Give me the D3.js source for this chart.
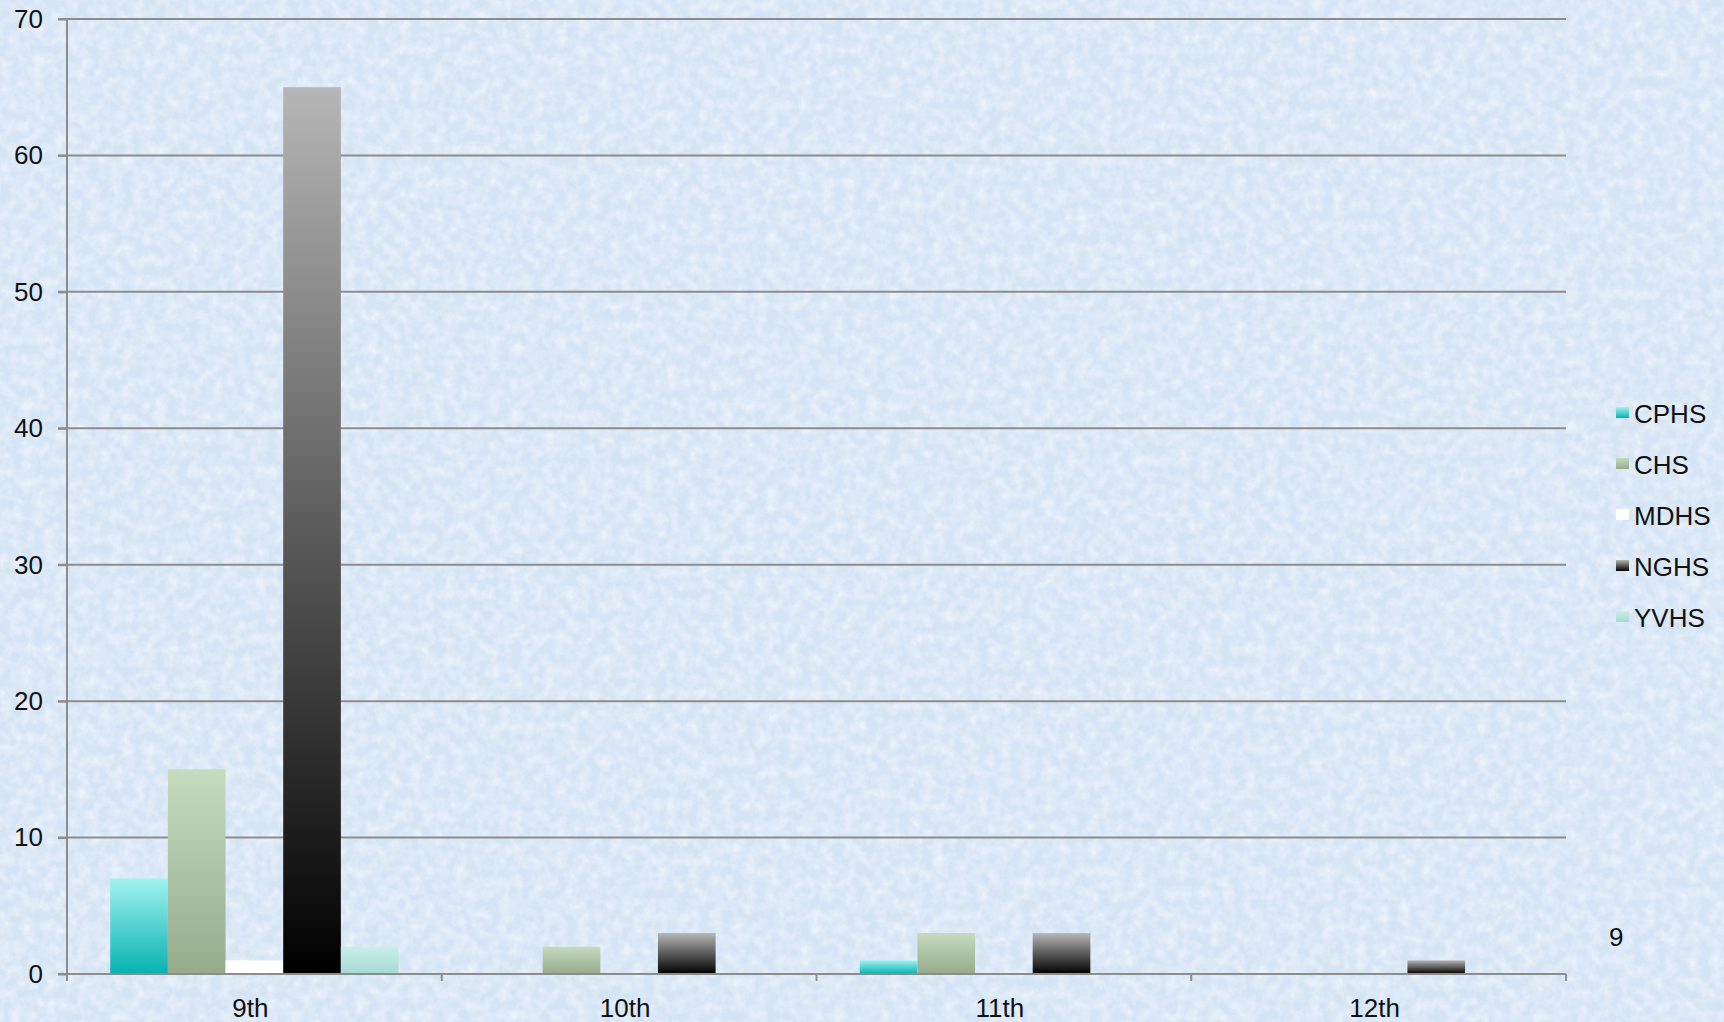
<!DOCTYPE html>
<html>
<head>
<meta charset="utf-8">
<script src="https://cdn.jsdelivr.net/npm/d3@7"></script>
<style>
  html, body { margin: 0; padding: 0; background: #dae8f6; overflow: hidden; }
  svg { display: block; }
  text { font-family: "Liberation Sans", Arial, Helvetica, sans-serif; fill: #111; }
</style>
</head>
<body>
<div id="chart"></div>
<script>
const grades = ["9th", "10th", "11th", "12th"];
const schools = ["CPHS", "CHS", "MDHS", "NGHS", "YVHS"];
const cphs = [7, 0, 1, 0];
const chs = [15, 2, 3, 0];
const mdhs = [1, 0, 0, 0];
const nghs = [65, 3, 3, 1];
const yvhs = [2, 0, 0, 0];
const yTicks = [0, 10, 20, 30, 40, 50, 60, 70];
const slideNumber = "9";

const seriesValues = { CPHS: cphs, CHS: chs, MDHS: mdhs, NGHS: nghs, YVHS: yvhs };

// gradient stops per school (top -> bottom)
const fills = {
    CPHS: ["#a2f2f0", "#06b2b0"],
    CHS: ["#c6dabe", "#96aa8c"],
    MDHS: ["#ffffff", "#ffffff"],
    NGHS: ["#b6b6b6", "#000000"],
    YVHS: ["#c8eee8", "#a6d9d3"]
};

const W = 1724, H = 1022;
const margin = { top: 19, right: 158, bottom: 48, left: 67 };
const fontSize = "26px";

const svg = d3.select("#chart").append("svg")
    .attr("width", W)
    .attr("height", H);

const defs = svg.append("defs");

// fine paper texture for the background
const tex = defs.append("filter").attr("id", "tex")
    .attr("x", 0).attr("y", 0).attr("width", "100%").attr("height", "100%");
tex.append("feTurbulence")
    .attr("type", "fractalNoise")
    .attr("baseFrequency", 0.09)
    .attr("numOctaves", 3)
    .attr("seed", 3);
tex.append("feColorMatrix")
    .attr("type", "matrix")
    .attr("values", "0 0 0 0 1  0 0 0 0 1  0 0 0 0 1  0 0 0 -2 1.3");

svg.append("rect").attr("width", W).attr("height", H).attr("fill", "#d5e4f4");
svg.append("rect").attr("width", W).attr("height", H).attr("filter", "url(#tex)").attr("opacity", 0.5);

schools.forEach(s => {
    const lg = defs.append("linearGradient")
        .attr("id", "grad-" + s)
        .attr("x1", 0).attr("y1", 0).attr("x2", 0).attr("y2", 1);
    lg.append("stop").attr("offset", "0%").attr("stop-color", fills[s][0]);
    lg.append("stop").attr("offset", "100%").attr("stop-color", fills[s][1]);
});

const x0 = d3.scaleBand()
    .domain(grades)
    .range([margin.left, W - margin.right])
    .padding(0);

const x1 = d3.scaleBand()
    .domain(schools)
    .range([0, x0.bandwidth()])
    .paddingInner(0)
    .paddingOuter(0.75);

const y = d3.scaleLinear()
    .domain([0, 70])
    .range([H - margin.bottom, margin.top]);

// gridlines
svg.append("g")
    .selectAll("line")
    .data(yTicks.filter(d => d > 0))
    .enter().append("line")
    .attr("x1", margin.left - 9)
    .attr("x2", W - margin.right)
    .attr("y1", d => y(d))
    .attr("y2", d => y(d))
    .attr("stroke", "#8c8c8c")
    .attr("stroke-width", 2);

// bars
const groups = svg.append("g")
    .selectAll("g")
    .data(grades)
    .enter().append("g")
    .attr("transform", d => `translate(${x0(d)},0)`);

groups.selectAll("rect")
    .data((g, i) => schools.map(s => ({ school: s, value: seriesValues[s][i] })).filter(d => d.value > 0))
    .enter().append("rect")
    .attr("x", d => x1(d.school))
    .attr("y", d => y(d.value))
    .attr("width", x1.bandwidth())
    .attr("height", d => y(0) - y(d.value))
    .attr("fill", d => `url(#grad-${d.school})`);

// y axis
const yAxis = svg.append("g")
    .attr("transform", `translate(${margin.left},0)`)
    .call(d3.axisLeft(y).tickValues(yTicks).tickSize(9).tickPadding(15));
yAxis.select(".domain").attr("stroke", "#8c8c8c").attr("stroke-width", 2)
    .attr("d", `M0,${y(70)}V${y(0)}`);
yAxis.selectAll(".tick line").attr("stroke", "#8c8c8c").attr("stroke-width", 2);
yAxis.selectAll(".tick text")
    .style("font-size", fontSize)
    .style("font-family", "'Liberation Sans', Arial, sans-serif")
    .attr("fill", "#111");

// x axis
const xBase = svg.append("g").attr("transform", `translate(0,${y(0)})`);
xBase.append("line")
    .attr("x1", margin.left - 9).attr("x2", W - margin.right)
    .attr("stroke", "#8c8c8c").attr("stroke-width", 2);
const bounds = [margin.left].concat(grades.map(g => x0(g) + x0.bandwidth()));
xBase.selectAll(".xt")
    .data(bounds)
    .enter().append("line")
    .attr("class", "xt")
    .attr("x1", d => d).attr("x2", d => d)
    .attr("y1", 0).attr("y2", 7)
    .attr("stroke", "#8c8c8c").attr("stroke-width", 2);
xBase.selectAll(".xl")
    .data(grades)
    .enter().append("text")
    .attr("class", "xl")
    .attr("x", d => x0(d) + x0.bandwidth() / 2 - 4)
    .attr("y", 43)
    .attr("text-anchor", "middle")
    .style("font-size", fontSize)
    .text(d => d);

// legend
const legend = svg.append("g").attr("transform", "translate(1616,413)");
const item = legend.selectAll("g")
    .data(schools)
    .enter().append("g")
    .attr("transform", (d, i) => `translate(0,${i * 51})`);
item.append("rect")
    .attr("x", 0).attr("y", -6)
    .attr("width", 13).attr("height", 11)
    .attr("fill", d => `url(#grad-${d})`);
item.append("text")
    .attr("x", 18)
    .attr("y", 9.5)
    .style("font-size", fontSize)
    .text(d => d);

// slide number
svg.append("text")
    .attr("x", 1609)
    .attr("y", 946)
    .style("font-size", fontSize)
    .text(slideNumber);
</script>
</body>
</html>
